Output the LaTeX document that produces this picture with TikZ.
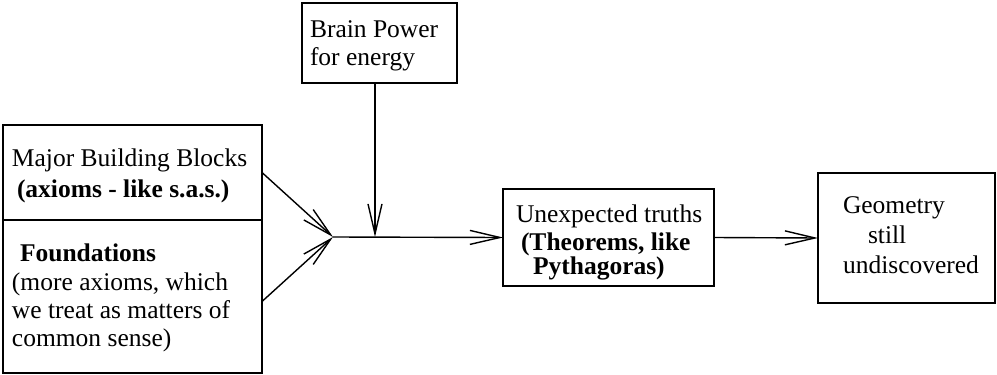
\documentclass[tikz,border=0pt]{standalone}
\usepackage{fontspec}
\setmainfont{LiberationSerif}[Extension=.ttf,UprightFont=*-Regular,BoldFont=*-Bold,ItalicFont=*-Italic,BoldItalicFont=*-BoldItalic]
\usetikzlibrary{arrows.meta}
\begin{document}
\begin{tikzpicture}[x=1pt,y=-1pt,
  boxnode/.style={draw,line width=1.5pt,inner sep=0pt,outer sep=0pt,anchor=north west},
  txt/.style={anchor=base west,inner sep=0pt,outer sep=0pt,font=\rmfamily\fontsize{25.5}{28}\selectfont},
  conn/.style={line width=1.4pt,-{Straight Barb[length=30pt,width=14pt,line width=1.4pt]}},
  plain/.style={line width=1.4pt}]
\useasboundingbox (0,0) rectangle (997,375);
% boxes
\node[boxnode,minimum width=259pt,minimum height=95pt] (top) at (3,125) {};
\node[boxnode,minimum width=259pt,minimum height=153pt] (bot) at (3,220) {};
\node[boxnode,minimum width=155pt,minimum height=80pt] (brain) at (302,3) {};
\node[boxnode,minimum width=211pt,minimum height=97pt] (unexp) at (503,189) {};
\node[boxnode,minimum width=177pt,minimum height=130pt] (geom) at (818,173) {};
% texts
\node[txt] (t1) at (12,166) {Major Building Blocks};
\node[txt] (t2) at (17,197) {\bfseries(axioms - like s.a.s.)};
\node[txt] (t3) at (20,261) {\bfseries Foundations};
\node[txt] (t4) at (12,290) {(more axioms, which};
\node[txt] (t5) at (12,318) {we treat as matters of};
\node[txt] (t6) at (12,346) {common sense)};
\node[txt] (b1) at (310,37) {Brain Power};
\node[txt] (b2) at (310,65) {for energy};
\node[txt] (u1) at (516,222) {Unexpected truths};
\node[txt] (u2) at (521,250) {\bfseries(Theorems, like};
\node[txt] (u3) at (533,274) {\bfseries Pythagoras)};
\node[txt] (g1) at (843,213) {Geometry};
\node[txt] (g2) at (868,243) {still};
\node[txt] (g3) at (843,273) {undiscovered};
% connectors
\coordinate (J) at (333,237);
\coordinate (BJ) at (375,237);
\draw[conn] (top.east) -- (J);
\draw[conn] ([yshift=-5pt]bot.east) -- (J);
\draw[conn] (brain.south -| BJ) -- (BJ);
\draw[conn] (J) -- (unexp.west);
\draw[conn] (unexp.east) -- (geom.west);
\end{tikzpicture}
\end{document}
